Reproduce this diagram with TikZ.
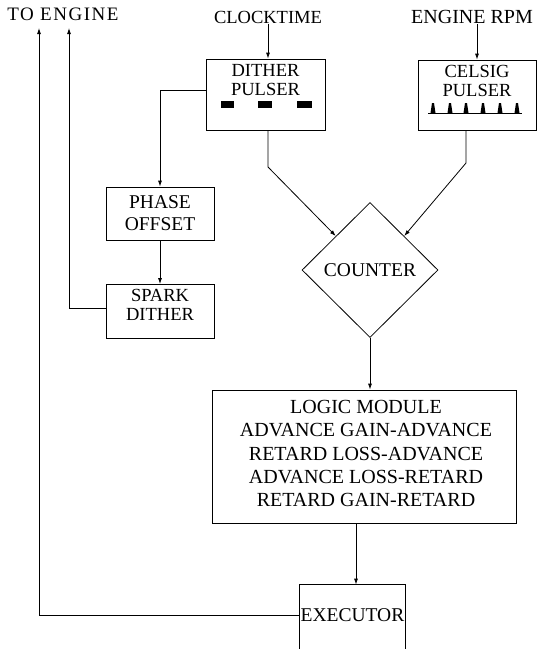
\documentclass[tikz,border=0pt]{standalone}
\usepackage{fontspec}
\setmainfont{Liberation Serif}
\usetikzlibrary{shapes.geometric,arrows.meta}
\newcommand\fsz[2]{\fontsize{#1}{#2}\selectfont}
\begin{document}
\begin{tikzpicture}[x=1pt,y=-1pt,line width=0.8pt,
  box/.style={draw,rectangle,inner sep=0pt},
  lbl/.style={inner sep=0pt,align=center,font=\fsz{18.5}{19}},
  arr/.style={-{Latex[length=6pt,width=4pt]}}]
\useasboundingbox (0,0) rectangle (541,649);

% top labels
\node[lbl,font=\fsz{19}{19}\addfontfeature{LetterSpace=8}] (toengine) at (63,14) {TO ENGINE};
\node[lbl] (clock) at (268,17) {CLOCKTIME};
\node[lbl,font=\fsz{20}{20}] (rpm) at (472,17) {ENGINE RPM};

% dither pulser
\node[box,minimum width=119,minimum height=71] (dither) at (265.5,94.5) {};
\node[lbl] (ditherlbl) at (265.5,80.5) {DITHER\\PULSER};
\fill (221,101) rectangle (234,108);
\fill (258,101) rectangle (272,108);
\fill (297,101) rectangle (312,108);

% celsig pulser
\node[box,minimum width=118,minimum height=70] (celsig) at (477,95) {};
\node[lbl] (celsiglbl) at (477,80.5) {CELSIG\\PULSER};
\draw[line width=0.9pt] (428,113) -- (522,113);
\foreach \px in {433,450,466,483,500,517}
  \fill (\px-2.5,113) -- (\px-1,103) -- (\px+1,103) -- (\px+2.5,113) -- cycle;

% phase offset and spark dither
\node[box,lbl,font=\fsz{19.5}{22},minimum width=108,minimum height=53] (phase) at (160,213.5) {PHASE\\OFFSET};
\node[box,minimum width=108,minimum height=54] (spark) at (160,311.5) {};
\node[lbl] (sparklbl) at (160,304.5) {SPARK\\DITHER};

% counter
\node[draw,diamond,inner sep=0pt,minimum width=136,minimum height=135,font=\fsz{19.5}{20}] (counter) at (370,270) {COUNTER};

% logic module
\node[box,minimum width=304,minimum height=133] (logic) at (364,456.5) {};
\node[lbl,font=\fsz{20}{23.3}] (logiclbl) at (366,453.5) {LOGIC MODULE\\ADVANCE GAIN-ADVANCE\\RETARD LOSS-ADVANCE\\ADVANCE LOSS-RETARD\\RETARD GAIN-RETARD};

% executor
\node[inner sep=0pt,minimum width=105,minimum height=60,font=\fsz{19.5}{20}] (exec) at (352.5,615) {EXECUTOR};
\draw ([yshift=-10pt]exec.south west) -- (exec.north west) -- (exec.north east) -- ([yshift=-10pt]exec.south east);

% connectors
\coordinate (up1) at (39,28);
\coordinate (up2) at (69,28);
\coordinate (c1) at (268,167);
\coordinate (c2) at (466,163);

\draw[arr] (clock) -- (clock |- dither.north);
\draw[arr] ([xshift=5pt]rpm.south) -- ([xshift=5pt]rpm.south |- celsig.north);
\draw[arr] ([yshift=4pt]dither.west) -| (phase.north);
\draw[arr] (phase) -- (spark);
\draw[arr] ([yshift=3pt]spark.west) -| (up2);
\draw[arr] (exec.west) -| (up1);
\draw[arr] (dither.south -| c1) -- (c1) -- (counter.north west);
\draw[arr] (celsig.south -| c2) -- (c2) -- (counter.north east);
\draw[arr] (counter.south) -- (counter.south |- logic.north);
\draw[arr] ([xshift=-8pt]logic.south) -- ([xshift=-8pt]logic.south |- exec.north);
\end{tikzpicture}
\end{document}
